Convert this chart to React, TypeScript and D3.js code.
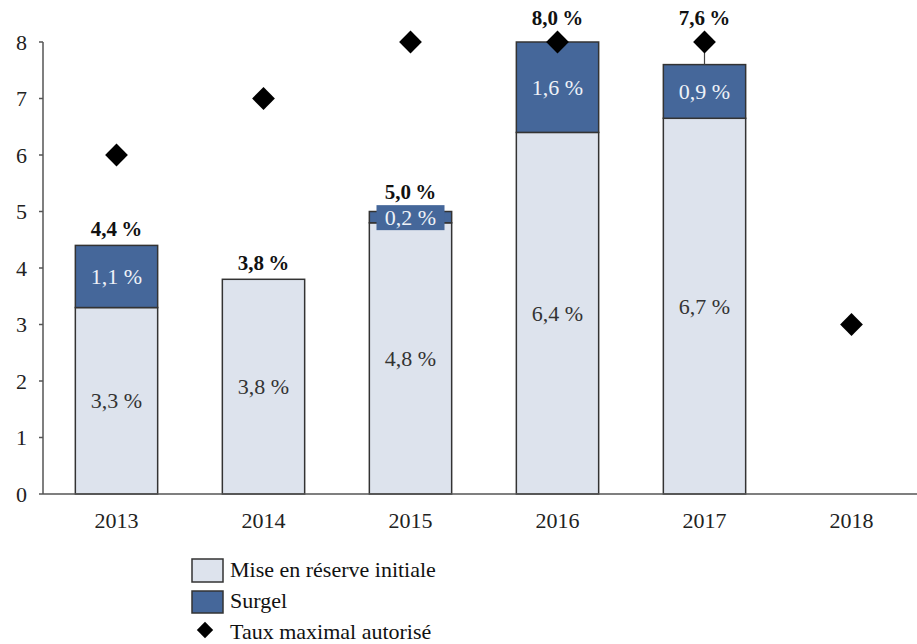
import React from "react";
import * as d3 from "d3";

const years = ["2013", "2014", "2015", "2016", "2017", "2018"];
const initiale: (number | null)[] = [3.3, 3.8, 4.8, 6.4, 6.65, null];
const surgel: (number | null)[] = [1.1, 0, 0.2, 1.6, 0.95, null];
const initialeLabels = ["3,3 %", "3,8 %", "4,8 %", "6,4 %", "6,7 %", ""];
const surgelLabels = ["1,1 %", "", "0,2 %", "1,6 %", "0,9 %", ""];
const totals: (number | null)[] = [4.4, 3.8, 5.0, 8.0, 7.6, null];
const totalLabels = ["4,4\u2009%", "3,8\u2009%", "5,0\u2009%", "8,0\u2009%", "7,6\u2009%", ""];
const tauxMax = [6, 7, 8, 8, 8, 3];
const yTicks = [0, 1, 2, 3, 4, 5, 6, 7, 8];
const legendItems = ["Mise en réserve initiale", "Surgel", "Taux maximal autorisé"];

const W = 917;
const H = 644;
const FONT = "'Liberation Serif', 'Times New Roman', serif";
const LIGHT = "#dde3ed";
const DARK = "#45679a";
const STROKE = "#333";

export default function App() {
  const left = 43;
  const step = 147;
  const x = d3
    .scaleBand<string>()
    .domain(years)
    .range([left, left + step * years.length])
    .paddingInner(0.44)
    .paddingOuter(0.22);
  const y = d3.scaleLinear().domain([0, 8]).range([494, 42]);
  const bw = x.bandwidth();
  const diamond = d3.symbol().type(d3.symbolDiamond2).size(330);
  const diamondSmall = d3.symbol().type(d3.symbolDiamond2).size(170);

  return (
    <svg
      width={W}
      height={H}
      style={{ position: "absolute", left: 0, top: 0, background: "#fff" }}
      fontFamily={FONT}
    >
      <rect width={W} height={H} fill="#fff" />
      {/* y axis */}
      <line x1={left} x2={left} y1={y(8)} y2={y(0)} stroke="#555" strokeWidth={1.5} />
      {yTicks.map((t) => (
        <g key={t}>
          <line x1={left - 4} x2={left} y1={y(t)} y2={y(t)} stroke="#555" strokeWidth={1.5} />
          <text x={27} y={y(t)} dy="0.35em" textAnchor="end" fontSize={22} fill="#222">
            {t}
          </text>
        </g>
      ))}
      {/* bars */}
      {years.map((yr, i) => {
        const x0 = x(yr)!;
        const ini = initiale[i];
        const sg = surgel[i];
        if (ini == null) return null;
        const top = ini + (sg || 0);
        return (
          <g key={yr}>
            <rect x={x0} y={y(ini)} width={bw} height={y(0) - y(ini)} fill={LIGHT} stroke={STROKE} strokeWidth={1.5} />
            {sg ? (
              <rect x={x0} y={y(top)} width={bw} height={y(ini) - y(top)} fill={DARK} stroke={STROKE} strokeWidth={1.5} />
            ) : null}
            <text
              x={x0 + bw / 2}
              y={y(ini / 2)}
              dy="0.35em"
              textAnchor="middle"
              fontSize={22}
              fill="#333"
            >
              {initialeLabels[i]}
            </text>
          </g>
        );
      })}
      {/* surgel labels */}
      {years.map((yr, i) => {
        const ini = initiale[i];
        const sg = surgel[i];
        if (ini == null || !sg) return null;
        const cx = x(yr)! + bw / 2;
        const cy = y(ini + sg / 2);
        const small = y(ini) - y(ini + sg) < 26;
        return (
          <g key={yr}>
            {small ? <rect x={cx - 34} y={cy - 12} width={68} height={25} fill={DARK} /> : null}
            <text x={cx} y={cy} dy="0.35em" textAnchor="middle" fontSize={22} fill="#eef2f8">
              {surgelLabels[i]}
            </text>
          </g>
        );
      })}
      {/* x axis */}
      <line x1={left} x2={W} y1={y(0)} y2={y(0)} stroke="#555" strokeWidth={1.5} />
      {years.map((yr) => (
        <text key={yr} x={x(yr)! + bw / 2} y={528} textAnchor="middle" fontSize={22} fill="#222">
          {yr}
        </text>
      ))}
      {/* leader lines + diamonds + totals */}
      {years.map((yr, i) => {
        const cx = x(yr)! + bw / 2;
        const tot = totals[i];
        const tm = tauxMax[i];
        const ini = initiale[i];
        const sg = surgel[i];
        const above = tot != null && tm >= tot && tm - tot < 0.6;
        const boxed = ini != null && sg ? y(ini) - y(ini + sg) < 26 : false;
        let ly = 0;
        if (tot != null) {
          ly = above ? y(tm) - 17 : y(tot) - 9;
          if (boxed) ly = Math.min(ly, y(ini! + sg! / 2) - 12 - 6);
        }
        return (
          <g key={yr}>
            {above && tm > tot! ? (
              <line x1={cx} x2={cx} y1={y(tot!)} y2={y(tm)} stroke="#444" strokeWidth={1.2} />
            ) : null}
            <path d={diamond()!} transform={`translate(${cx},${y(tm)})`} fill="#000" />
            {tot != null ? (
              <text x={cx} y={ly} textAnchor="middle" fontSize={21} fontWeight="bold" fill="#111">
                {totalLabels[i]}
              </text>
            ) : null}
          </g>
        );
      })}
      {/* legend */}
      <rect x={192} y={559} width={31} height={23} fill={LIGHT} stroke={STROKE} strokeWidth={1.5} />
      <rect x={192} y={591} width={31} height={22} fill={DARK} stroke={STROKE} strokeWidth={1.5} />
      <path d={diamondSmall()!} transform="translate(205,630)" fill="#000" />
      {legendItems.map((t, i) => (
        <text key={t} x={230} y={577 + i * 31} fontSize={22} fill="#111">
          {t}
        </text>
      ))}
    </svg>
  );
}
